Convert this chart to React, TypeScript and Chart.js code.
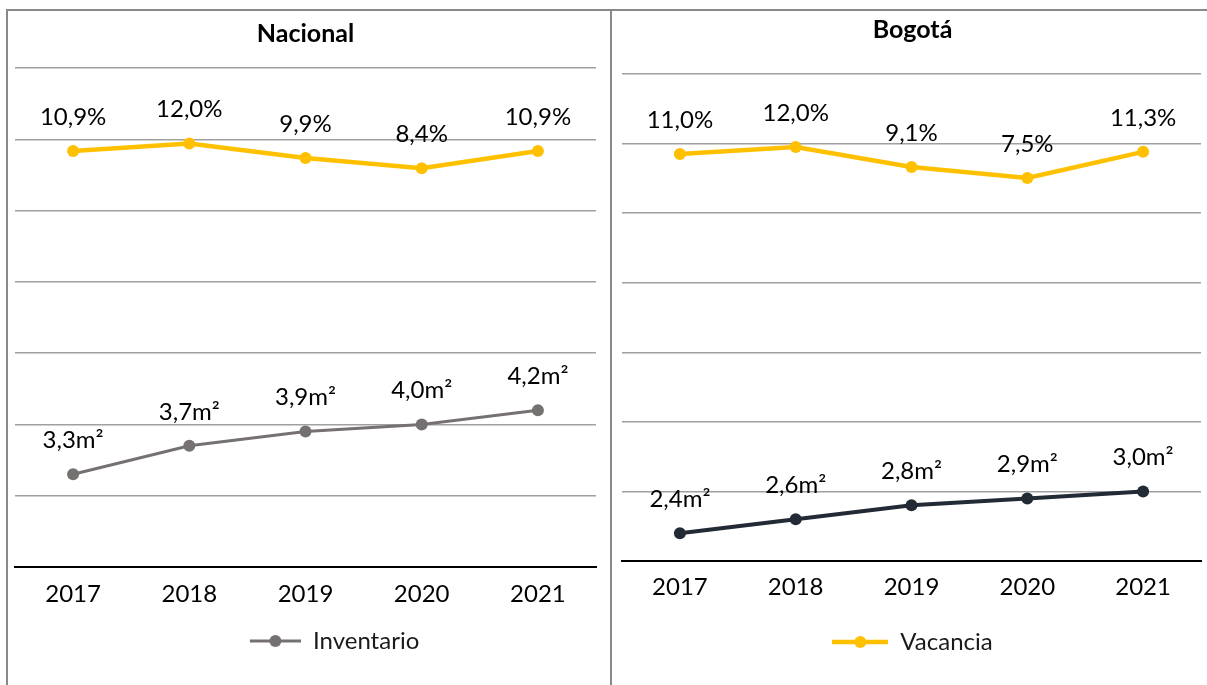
import React, { useEffect, useRef } from 'react';
import { Chart, registerables } from 'chart.js';

Chart.register(...registerables);

// ---------- data ----------
const years = ['2017', '2018', '2019', '2020', '2021'];
const nacionalVacancia = [10.9, 12.0, 9.9, 8.4, 10.9];
const nacionalInventario = [3.3, 3.7, 3.9, 4.0, 4.2];
const bogotaVacancia = [11.0, 12.0, 9.1, 7.5, 11.3];
const bogotaInventario = [2.4, 2.6, 2.8, 2.9, 3.0];
// axis ranges (hidden axes, as in the original)
const inventarioAxis = [2, 9];
const nacionalVacanciaAxis = [-49.7, 23.0];
const bogotaVacanciaAxis = [-48.1, 22.6];

const YELLOW = '#FFC000';
const GREY = '#767171';
const DARK = '#222A35';
const GRID = '#A0A0A0';
const FONT = 'Lato';
const FS = 24;
const TFS = 25;

const fmt = (v: number) => v.toFixed(1).replace('.', ',');

const pointLabels = {
  id: 'pointLabels',
  afterDatasetsDraw(chart: any) {
    const ctx = chart.ctx;
    ctx.save();
    ctx.font = `${FS}px ${FONT}`;
    ctx.fillStyle = '#000';
    ctx.textAlign = 'center';
    ctx.textBaseline = 'middle';
    chart.data.datasets.forEach((ds: any, i: number) => {
      const meta = chart.getDatasetMeta(i);
      meta.data.forEach((pt: any, j: number) => {
        ctx.fillText(fmt(ds.data[j]) + ds.suffix, pt.x, pt.y - 34);
      });
    });
    ctx.restore();
  },
};

function measure(text: string) {
  const c = document.createElement('canvas');
  const g = c.getContext('2d')!;
  g.font = `${FS}px ${FONT}`;
  return g.measureText(text).width;
}

function swatch(width: number, lineLen: number, color: string, lw: number, r: number) {
  const c = document.createElement('canvas');
  c.width = Math.max(2, Math.round(width));
  c.height = 16;
  const g = c.getContext('2d')!;
  const x1 = Math.max(0, c.width - lineLen);
  g.strokeStyle = color;
  g.lineWidth = lw;
  g.beginPath();
  g.moveTo(x1, 8);
  g.lineTo(c.width, 8);
  g.stroke();
  g.fillStyle = color;
  g.beginPath();
  g.arc((x1 + c.width) / 2, 8, r, 0, Math.PI * 2);
  g.fill();
  return c;
}

type Spec = {
  title: string;
  left: number;
  width: number;
  pad: { left: number; right: number; bottom: number };
  titlePad: { top: number; bottom: number };
  tickPad: number;
  legendPad: number;
  legendTextStart: number;
  legendLine: number;
  vac: number[];
  inv: number[];
  vacAxis: number[];
  invColor: string;
  invWidth: number;
  legendIndex: number;
};

function Panel({ spec }: { spec: Spec }) {
  const ref = useRef<HTMLCanvasElement>(null);
  useEffect(() => {
    const datasets: any[] = [
      {
        label: 'Vacancia',
        data: spec.vac,
        yAxisID: 'y1',
        borderColor: YELLOW,
        backgroundColor: YELLOW,
        pointBackgroundColor: YELLOW,
        pointBorderColor: YELLOW,
        borderWidth: 4.5,
        pointRadius: 6,
        pointBorderWidth: 0,
        tension: 0,
        suffix: '%',
      },
      {
        label: 'Inventario',
        data: spec.inv,
        yAxisID: 'y',
        borderColor: spec.invColor,
        backgroundColor: spec.invColor,
        pointBackgroundColor: spec.invColor,
        pointBorderColor: spec.invColor,
        borderWidth: spec.invWidth,
        pointRadius: 6,
        pointBorderWidth: 0,
        tension: 0,
        suffix: 'm²',
      },
    ];
    const legendDs = datasets[spec.legendIndex];
    const tw = measure(legendDs.label);
    const L = spec.pad.left;
    const R = spec.width - spec.pad.right;
    const W = Math.max(spec.legendLine, 2 * spec.legendTextStart - (L + R) - FS / 2 + tw);
    const img = swatch(W, spec.legendLine, legendDs.borderColor, legendDs.borderWidth, legendDs.pointRadius);

    Chart.defaults.font.family = FONT;
    const chart = new Chart(ref.current!, {
      type: 'line',
      data: { labels: years, datasets },
      plugins: [pointLabels],
      options: {
        responsive: false,
        animation: false,
        layout: { padding: { left: spec.pad.left, right: spec.pad.right, top: 0, bottom: spec.pad.bottom } },
        plugins: {
          tooltip: { enabled: false },
          title: {
            display: true,
            text: spec.title,
            color: '#000',
            font: { family: FONT, size: TFS, weight: 'bold' },
            padding: { top: spec.titlePad.top, bottom: spec.titlePad.bottom },
          },
          legend: {
            display: true,
            position: 'bottom',
            labels: {
              usePointStyle: true,
              pointStyleWidth: W,
              padding: spec.legendPad,
              color: '#1a1a1a',
              font: { family: FONT, size: FS },
              generateLabels: () => [
                {
                  text: legendDs.label,
                  fillStyle: legendDs.borderColor,
                  strokeStyle: legendDs.borderColor,
                  lineWidth: 0,
                  pointStyle: img as any,
                  hidden: false,
                  datasetIndex: spec.legendIndex,
                  fontColor: '#1a1a1a',
                } as any,
              ],
            },
          },
        },
        scales: {
          x: {
            type: 'category',
            offset: true,
            grid: { display: false, drawTicks: false },
            border: { display: true, color: '#000', width: 2 },
            ticks: { color: '#000', padding: spec.tickPad, font: { family: FONT, size: FS }, maxRotation: 0 },
          },
          y: {
            position: 'left',
            min: inventarioAxis[0],
            max: inventarioAxis[1],
            ticks: { display: false, stepSize: 1 },
            grid: {
              drawTicks: false,
              lineWidth: 1.5,
              color: (c: any) => (c.tick && c.tick.value === inventarioAxis[0] ? 'rgba(0,0,0,0)' : GRID),
            },
            border: { display: false },
          },
          y1: {
            display: false,
            position: 'right',
            min: spec.vacAxis[0],
            max: spec.vacAxis[1],
            grid: { display: false },
          },
        },
      } as any,
    });
    return () => chart.destroy();
  }, []);
  return (
    <canvas
      ref={ref}
      width={spec.width}
      height={674}
      style={{ position: 'absolute', left: spec.left, top: 11, width: spec.width, height: 674 }}
    />
  );
}

const leftSpec: Spec = {
  title: 'Nacional',
  left: 8,
  width: 602,
  pad: { left: 7, right: 14, bottom: 22 },
  titlePad: { top: 8, bottom: 19 },
  tickPad: 12.6,
  legendPad: 8,
  legendTextStart: 305,
  legendLine: 51,
  vac: nacionalVacancia,
  inv: nacionalInventario,
  vacAxis: nacionalVacanciaAxis,
  invColor: GREY,
  invWidth: 3,
  legendIndex: 1,
};

const rightSpec: Spec = {
  title: 'Bogotá',
  left: 612,
  width: 595,
  pad: { left: 10, right: 4, bottom: 21 },
  titlePad: { top: 4, bottom: 29 },
  tickPad: 12,
  legendPad: 16.2,
  legendTextStart: 288,
  legendLine: 56,
  vac: bogotaVacancia,
  inv: bogotaInventario,
  vacAxis: bogotaVacanciaAxis,
  invColor: DARK,
  invWidth: 4,
  legendIndex: 0,
};

export default function App() {
  return (
    <div style={{ position: 'fixed', left: 0, top: 0, width: 1207, height: 685, overflow: 'hidden', background: '#fff' }}>
      <div
        style={{
          position: 'absolute',
          left: 6,
          top: 9,
          width: 1300,
          height: 800,
          borderLeft: '2px solid #898989',
          borderTop: '2px solid #898989',
        }}
      />
      <div style={{ position: 'absolute', left: 610, top: 9, width: 2, height: 800, background: '#898989' }} />
      <Panel spec={leftSpec} />
      <Panel spec={rightSpec} />
    </div>
  );
}
